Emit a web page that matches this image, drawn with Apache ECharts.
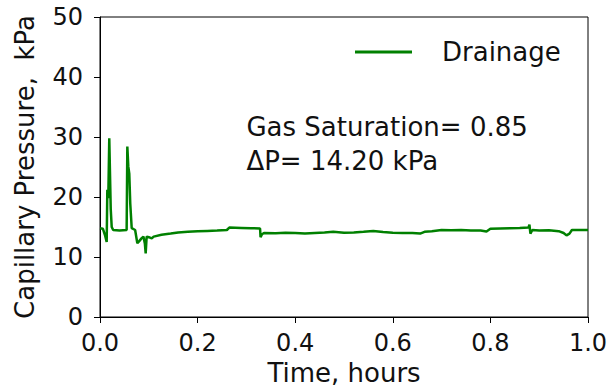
<!DOCTYPE html>
<html>
<head>
<meta charset="utf-8">
<script src="https://cdn.jsdelivr.net/npm/echarts@6/dist/echarts.min.js"></script>
<style>
html,body{margin:0;padding:0;background:#fff;}
#chart{width:608px;height:388px;}
</style>
</head>
<body>
<div id="chart"></div>
<script>
// Data
const seriesName = 'Drainage';
const timeHours = [
  0.000, 0.006, 0.010, 0.0137, 0.015, 0.017, 0.019, 0.022, 0.024, 0.027,
  0.040, 0.0546, 0.056, 0.058, 0.060, 0.062, 0.065, 0.072, 0.0765, 0.080,
  0.085, 0.089, 0.092, 0.0936, 0.0956, 0.100, 0.106, 0.110, 0.126, 0.145,
  0.160, 0.180, 0.200, 0.220, 0.240, 0.260, 0.265, 0.290, 0.310, 0.328,
  0.329, 0.332, 0.336, 0.360, 0.380, 0.400, 0.420, 0.440, 0.460, 0.478,
  0.500, 0.520, 0.540, 0.560, 0.580, 0.600, 0.620, 0.640, 0.656, 0.665,
  0.680, 0.700, 0.720, 0.740, 0.760, 0.780, 0.792, 0.800, 0.820, 0.840,
  0.860, 0.878, 0.880, 0.882, 0.886, 0.900, 0.920, 0.940, 0.950, 0.956,
  0.962, 0.967, 0.980, 1.000
];
const pressureKPa = [
  14.8, 14.7, 13.7, 12.5, 21.2, 19.8, 29.8, 18.0, 15.0, 14.5,
  14.4, 14.5, 28.4, 25.1, 23.9, 18.9, 14.8, 14.5, 12.3, 12.6,
  13.1, 13.4, 12.2, 10.6, 13.4, 13.3, 13.1, 13.4, 13.7, 13.9,
  14.1, 14.2, 14.3, 14.35, 14.4, 14.5, 14.9, 14.85, 14.8, 14.75,
  13.3, 13.8, 14.0, 13.95, 14.05, 14.0, 13.9, 14.0, 14.1, 14.2,
  14.05, 14.1, 14.2, 14.35, 14.15, 14.05, 14.0, 14.0, 13.9, 14.2,
  14.3, 14.5, 14.45, 14.5, 14.4, 14.4, 14.25, 14.7, 14.75, 14.8,
  14.85, 14.9, 15.4, 13.9, 14.5, 14.4, 14.45, 14.3, 14.0, 13.6,
  13.9, 14.5, 14.5, 14.5
];
const xTicks = {min: 0, max: 1, interval: 0.2};
const yTicks = {min: 0, max: 50, interval: 10};
const annotationLines = ['Gas Saturation= 0.85', 'ΔP= 14.20 kPa'];
const xTitle = 'Time, hours';
const yTitle = 'Capillary Pressure,  kPa';

const FONT = 'DejaVu Sans';
const chart = echarts.init(document.getElementById('chart'), null, {renderer: 'svg'});
const lineData = timeHours.map((t, i) => [t, pressureKPa[i]]);

chart.setOption({
  animation: false,
  backgroundColor: '#fff',
  textStyle: {fontFamily: FONT, color: '#000'},
  grid: {left: 100, right: 20, top: 17, bottom: 71, show: true, borderColor: '#000', borderWidth: 1,
         containLabel: false, outerBoundsMode: 'none'},
  legend: {
    data: [seriesName],
    left: 355, top: 39, padding: 0,
    icon: 'rect', itemWidth: 57, itemHeight: 3,
    textStyle: {fontFamily: FONT, fontSize: 26, color: '#111', padding: [0, 0, 0, 25]}
  },
  xAxis: {
    type: 'value', min: xTicks.min, max: xTicks.max, interval: xTicks.interval,
    name: xTitle, nameLocation: 'middle', nameGap: 41,
    nameTextStyle: {fontFamily: FONT, fontSize: 26, color: '#111'},
    axisLine: {show: true, onZero: false, lineStyle: {color: '#000', width: 1}},
    axisTick: {show: true, inside: false, length: 6, lineStyle: {color: '#000', width: 1}},
    axisLabel: {fontFamily: FONT, fontSize: 24, color: '#111', margin: 14, formatter: v => v.toFixed(1)},
    splitLine: {show: false}
  },
  yAxis: {
    type: 'value', min: yTicks.min, max: yTicks.max, interval: yTicks.interval,
    name: yTitle, nameLocation: 'middle', nameGap: 62, nameRotate: 90,
    nameTextStyle: {fontFamily: FONT, fontSize: 26, color: '#111'},
    axisLine: {show: true, onZero: false, lineStyle: {color: '#000', width: 1}},
    axisTick: {show: true, inside: false, length: 6, lineStyle: {color: '#000', width: 1}},
    axisLabel: {fontFamily: FONT, fontSize: 24, color: '#111', margin: 17},
    splitLine: {show: false}
  },
  series: [{
    name: seriesName, type: 'line', data: lineData,
    showSymbol: false, symbol: 'none',
    lineStyle: {color: '#008000', width: 2.5},
    itemStyle: {color: '#008000'},
    clip: true
  }]
});

// Annotation anchored through the chart's own coordinate system
const p1 = chart.convertToPixel({gridIndex: 0}, [0.3, 31.6]);
const p2 = chart.convertToPixel({gridIndex: 0}, [0.3, 26.0]);
chart.setOption({
  graphic: [
    {type: 'text', x: p1[0], y: p1[1], style: {text: annotationLines[0], font: '26px "DejaVu Sans"', fill: '#111', align: 'left', verticalAlign: 'middle'}},
    {type: 'text', x: p2[0], y: p2[1], style: {text: annotationLines[1], font: '26px "DejaVu Sans"', fill: '#111', align: 'left', verticalAlign: 'middle'}}
  ]
});
</script>
</body>
</html>
